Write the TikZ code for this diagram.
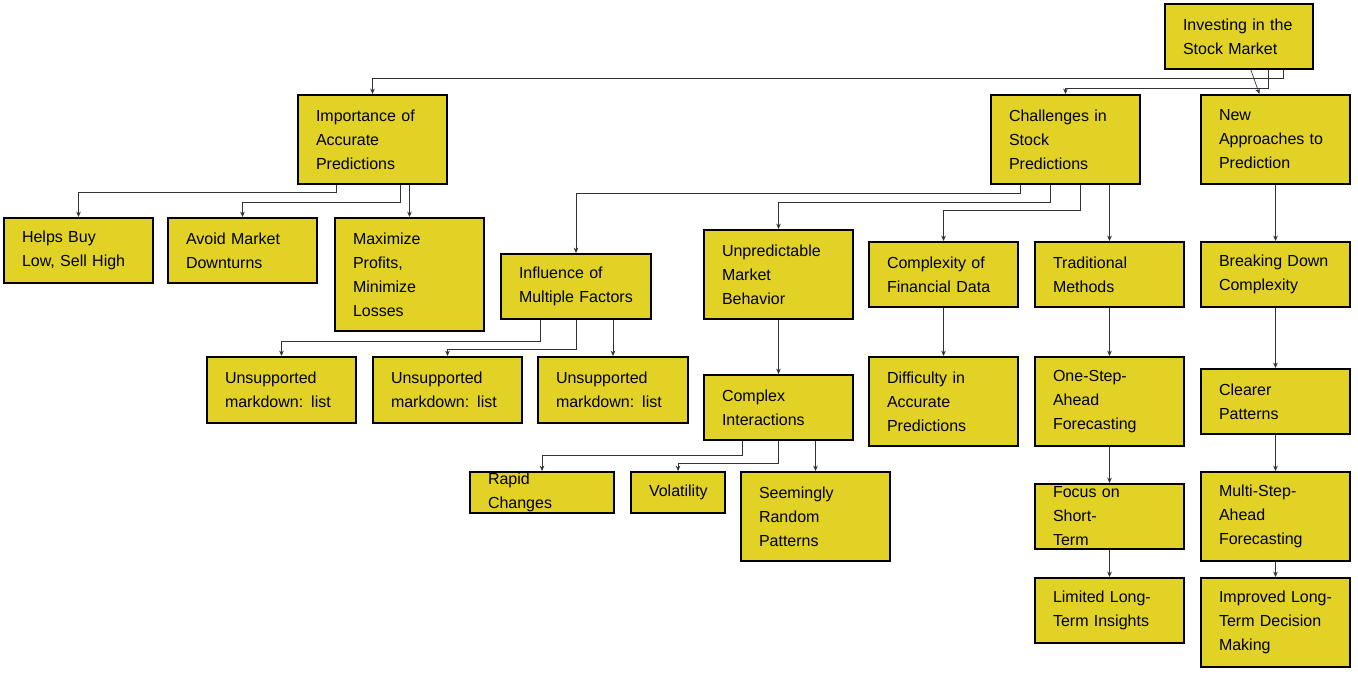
\documentclass[tikz,border=0pt]{standalone}
\usepackage{fontspec}
\setmainfont{Liberation Sans}
\usetikzlibrary{arrows.meta}
\definecolor{boxfill}{HTML}{E3D226}
\tikzset{
  box/.style={draw=black, line width=1.6pt, fill=boxfill, inner sep=0pt, align=left, font=\fontsize{12}{18}\selectfont},
  conn/.style={draw=black!80, line width=0.5pt, -{Stealth[length=4pt,width=3.5pt]}}
}
\newcommand\bx[6]{%
  \pgfmathsetmacro\bw{(#4-#2)*0.75}%
  \pgfmathsetmacro\bh{(#5-#3)*0.75}%
  \pgfmathsetmacro\tw{(#4-#2-36)*0.75}%
  \node[box, minimum width=\bw pt, minimum height=\bh pt, text width=\tw pt] (#1) at ({(#2+#4)/2},{(#3+#5)/2}) {#6};}
\newcommand\elb[4]{% parent, start x, mid y, child
  \draw[conn] (#1.south -| #2,0) -- (#2,#3) -| (#4.north);}
\begin{document}
\begin{tikzpicture}[x=0.75pt,y=-0.75pt]
\useasboundingbox (0,0) rectangle (1358,674);
\bx{root}{1165}{4}{1313}{69}{Investing in the\\Stock Market}
\bx{imp}{298}{95}{447}{184}{Importance of\\Accurate\\Predictions}
\bx{chal}{991}{95}{1140}{184}{Challenges in\\Stock\\Predictions}
\bx{new}{1201}{95}{1350}{184}{New\\Approaches to\\Prediction}
\bx{helps}{4}{218}{153}{283}{Helps Buy\\Low, Sell High}
\bx{avoid}{168}{218}{317}{283}{Avoid Market\\Downturns}
\bx{max}{335}{218}{484}{331}{Maximize\\Profits,\\Minimize\\Losses}
\bx{infl}{501}{254}{651}{319}{Influence of\\Multiple Factors}
\bx{unpred}{704}{230}{853}{319}{Unpredictable\\Market\\Behavior}
\bx{compl}{869}{242}{1018}{307}{Complexity of\\Financial Data}
\bx{trad}{1035}{242}{1184}{307}{Traditional\\Methods}
\bx{break}{1201}{242}{1350}{307}{Breaking Down\\Complexity}
\bx{u1}{207}{357}{356}{423}{Unsupported\\markdown: list}
\bx{u2}{373}{357}{522}{423}{Unsupported\\markdown: list}
\bx{u3}{538}{357}{688}{423}{Unsupported\\markdown: list}
\bx{cint}{704}{375}{853}{440}{Complex\\Interactions}
\bx{diff}{869}{357}{1018}{446}{Difficulty in\\Accurate\\Predictions}
\bx{one}{1035}{357}{1184}{446}{One-Step-\\Ahead\\Forecasting}
\bx{clear}{1201}{369}{1350}{434}{Clearer\\Patterns}
\bx{rapid}{470}{472}{614}{513}{Rapid Changes}
\bx{vol}{631}{472}{725}{513}{Volatility}
\bx{seem}{741}{472}{890}{561}{Seemingly\\Random\\Patterns}
\bx{focus}{1035}{484}{1184}{549}{Focus on Short-\\Term}
\bx{lim}{1035}{578}{1184}{643}{Limited Long-\\Term Insights}
\bx{multi}{1201}{472}{1350}{561}{Multi-Step-\\Ahead\\Forecasting}
\bx{impr}{1201}{578}{1350}{667}{Improved Long-\\Term Decision\\Making}
\elb{root}{1283}{78}{imp}
\elb{root}{1268}{88}{chal}
\draw[conn] (root) -- (new);
\elb{imp}{336}{192}{helps}
\elb{imp}{400}{202}{avoid}
\draw[conn] (max.north |- imp.south) -- (max.north);
\elb{chal}{1020}{193}{infl}
\elb{chal}{1050}{202}{unpred}
\elb{chal}{1080}{210}{compl}
\draw[conn] (trad.north |- chal.south) -- (trad.north);
\elb{infl}{540}{341}{u1}
\elb{infl}{576}{349}{u2}
\draw[conn] (u3.north |- infl.south) -- (u3.north);
\elb{cint}{742}{455}{rapid}
\elb{cint}{778}{463}{vol}
\draw[conn] (seem.north |- cint.south) -- (seem.north);
\draw[conn] (unpred) -- (cint);
\draw[conn] (compl) -- (diff);
\draw[conn] (trad) -- (one);
\draw[conn] (one) -- (focus);
\draw[conn] (focus) -- (lim);
\draw[conn] (new) -- (break);
\draw[conn] (break) -- (clear);
\draw[conn] (clear) -- (multi);
\draw[conn] (multi) -- (impr);
\end{tikzpicture}
\end{document}
